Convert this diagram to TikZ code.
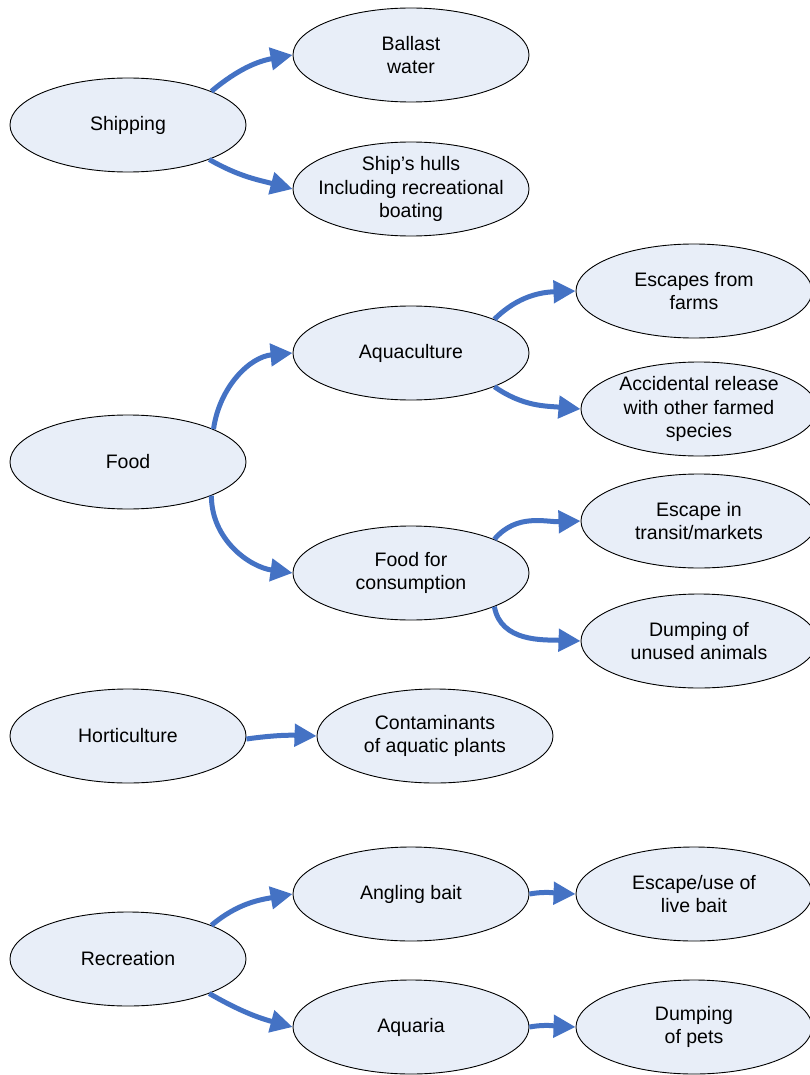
\documentclass[tikz,border=0pt]{standalone}
\usepackage{fontspec}
\setmainfont{Liberation Sans}
\usetikzlibrary{arrows.meta,shapes.geometric}
\definecolor{bubblefill}{HTML}{E8EEF8}
\definecolor{linkblue}{HTML}{4472C4}
\begin{document}
\begin{tikzpicture}[
    x=1pt, y=-1pt,
    bubble/.style={ellipse, draw=black, line width=0.9pt, fill=bubblefill, minimum width=236pt, minimum height=94pt, inner xsep=-25pt, inner ysep=-18pt, align=center, font=\fontsize{19.5}{23.5}\selectfont},
    link/.style={draw=linkblue, line width=5pt, -{Triangle[length=22pt,width=22pt]}}
]
\useasboundingbox (0,0) rectangle (809,1075);

% shipping
\node[bubble] (ship) at (128,125) {Shipping};
\node[bubble] (ballast) at (411,55) {Ballast\\water};
\node[bubble] (hulls) at (411,189) {Ship’s hulls\\Including recreational\\boating};

% food
\node[bubble] (food) at (128,462) {Food};
\node[bubble] (aqua) at (411,353) {Aquaculture};
\node[bubble] (consume) at (411,573) {Food for\\consumption};
\node[bubble] (farms) at (694,291) {Escapes from\\farms};
\node[bubble] (release) at (699,409) {Accidental release\\with other farmed\\species};
\node[bubble] (transit) at (699,521) {Escape in\\transit/markets};
\node[bubble] (unused) at (699,641) {Dumping of\\unused animals};

% horticulture
\node[bubble] (horti) at (128,736) {Horticulture};
\node[bubble] (plants) at (435,736) {Contaminants\\of aquatic plants};

% recreation
\node[bubble] (recreation) at (128,959) {Recreation};
\node[bubble] (bait) at (411,894) {Angling bait};
\node[bubble] (aquaria) at (411,1027) {Aquaria};
\node[bubble] (livebait) at (694,894) {Escape/use of\\live bait};
\node[bubble] (pets) at (694,1027) {Dumping\\of pets};

\draw[link] (ship.22) to[out=40, in=190] (ballast.west);
\draw[link] (ship.-23) to[out=-30, in=165] (hulls.west);

\draw[link] (food.21) to[out=82, in=185] (aqua.west);
\draw[link] (food.-22) to[out=-90, in=172] (consume.west);
\draw[link] (aqua.22) to[out=45, in=182] (farms.west);
\draw[link] (aqua.-22) to[out=-35, in=175] (release.west);
\draw[link] (consume.22) to[out=50, in=182] (transit.west);
\draw[link] (consume.-22) to[out=-80, in=178] (unused.west);

\draw[link] ([yshift=-3pt]horti.east) to[out=8, in=178] (plants.west);

\draw[link] (recreation.22) to[out=40, in=190] (bait.west);
\draw[link] (recreation.-23) to[out=-30, in=165] (aquaria.west);
\draw[link] (bait.east) to[out=10, in=178] (livebait.west);
\draw[link] (aquaria.east) to[out=10, in=178] (pets.west);

\end{tikzpicture}
\end{document}
